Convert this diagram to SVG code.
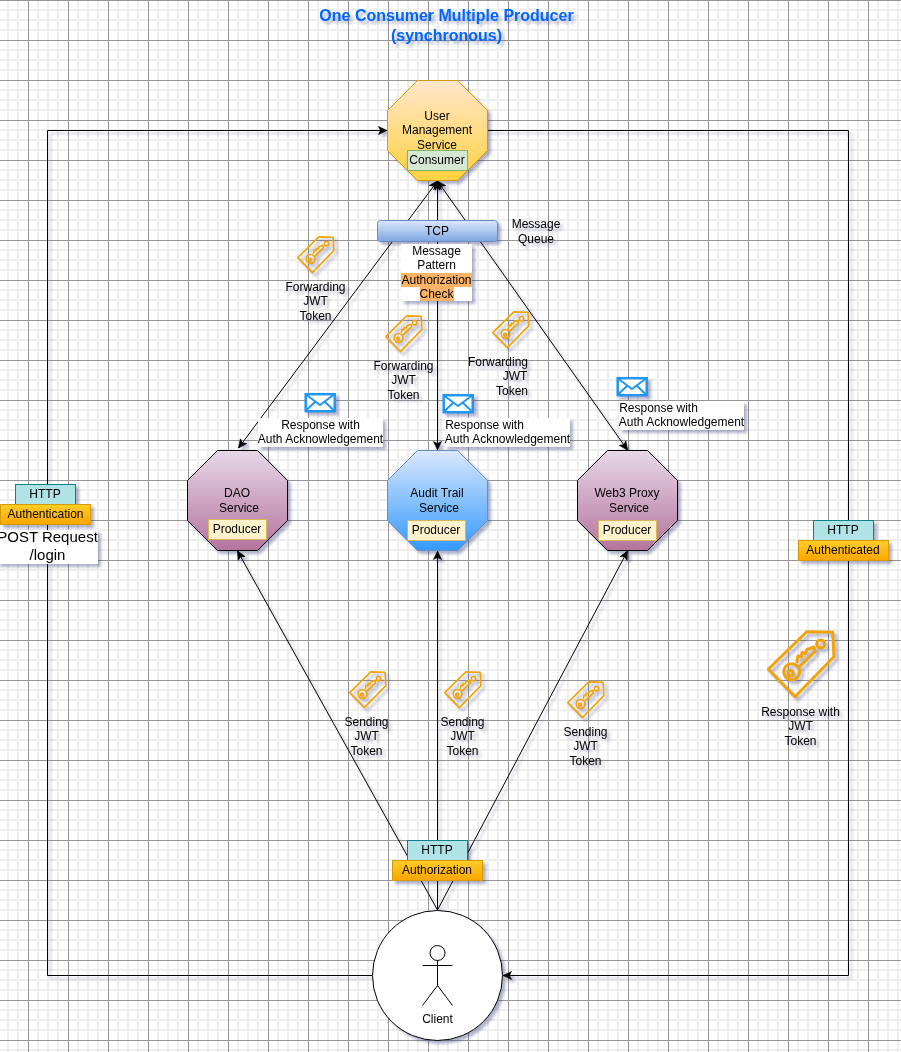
<svg xmlns="http://www.w3.org/2000/svg" width="901" height="1052" viewBox="0 0 901 1052">
<style>
text{font-family:"Liberation Sans",Arial,sans-serif;font-size:12px;fill:#000;text-anchor:middle}
.title{font-size:16px;font-weight:bold;fill:#0066ff}
.big{font-size:15px}
.ln{fill:none;stroke:#000;stroke-width:1}
.both{marker-start:url(#arr);marker-end:url(#arr)}
.end{marker-end:url(#arr)}
.wh{fill:#fff;stroke:none}
.oct{stroke-width:1}
.prod{fill:#fff2cc;stroke:#d6b656}
.http{fill:#b0e3e6;stroke:#0e8088}
.auth{fill:url(#gOrange);stroke:#d79b00}
.tag{fill:none;stroke:#f0a30a;stroke-width:3;stroke-linejoin:round}
.env{fill:#fff;stroke:#2196f3;stroke-width:2.5}
.lab{fill:#ffb366}
</style>
<defs>
<pattern id="grid" patternUnits="userSpaceOnUse" x="3" y="5" width="40" height="40">
<path d="M5 0V40M15 0V40M35 0V40M0 5H40M0 15H40M0 25H40" fill="none" stroke="#eeeeee" stroke-width="2"/>
<path d="M25.5 0V40M0 35.5H40" fill="none" stroke="#969696" stroke-width="1"/>
</pattern>
<linearGradient id="gUser" x1="0" y1="0" x2="0" y2="1"><stop offset="0" stop-color="#ffe6cc"/><stop offset="1" stop-color="#ffd23f"/></linearGradient>
<linearGradient id="gPurple" x1="0" y1="0" x2="0" y2="1"><stop offset="0" stop-color="#e6d8e8"/><stop offset="1" stop-color="#b5739d"/></linearGradient>
<linearGradient id="gBlue" x1="0" y1="0" x2="0" y2="1"><stop offset="0" stop-color="#dae8fc"/><stop offset="1" stop-color="#3399ff"/></linearGradient>
<linearGradient id="gTcp" x1="0" y1="0" x2="0" y2="1"><stop offset="0" stop-color="#dae8fc"/><stop offset="1" stop-color="#7ea6e0"/></linearGradient>
<linearGradient id="gOrange" x1="0" y1="0" x2="0" y2="1"><stop offset="0" stop-color="#ffcd28"/><stop offset="1" stop-color="#ffa500"/></linearGradient>
<marker id="arr" markerUnits="userSpaceOnUse" viewBox="0 0 10 10" refX="9.5" refY="5" markerWidth="10" markerHeight="10" orient="auto-start-reverse"><path d="M9.5 5L1 1L3 5L1 9Z" fill="#000" stroke="#000" stroke-width="0.6"/></marker>
<filter id="sh" x="-2%" y="-2%" width="104%" height="104%" color-interpolation-filters="sRGB"><feDropShadow dx="3" dy="3" stdDeviation="1.6" flood-color="#3a3f7a" flood-opacity="0.4"/></filter>
<g id="tagIcon">
<path class="tag" d="M39.7 1.7L65.7 2.3L67 26.7L28 66.7L1.3 39.3Z"/>
<circle class="tag" cx="53.7" cy="14" r="4"/>
<circle class="tag" cx="24.7" cy="41.7" r="8"/>
<circle class="tag" cx="23.7" cy="43.3" r="2.5"/>
<path class="tag" d="M29.7 33L31 26L34.5 27L35 22.5L38.5 23.5L40 19.5L47 17L48 21.5L32.5 36.7"/>
</g>
<g id="envIcon">
<rect class="env" x="1.2" y="1.2" width="29" height="17"/>
<path d="M1.5 1.5L15.5 12L29.5 1.5M1.5 17.5L11 8.5M29.5 17.5L20 8.5" fill="none" stroke="#2196f3" stroke-width="2"/>
</g>
</defs>
<rect width="901" height="1052" fill="#fff"/>
<rect width="901" height="1052" fill="url(#grid)"/>
<g filter="url(#sh)">
<g id="title"><text class="title" x="446.5" y="21">One Consumer Multiple Producer</text><text class="title" x="446.5" y="41">(synchronous)</text></g>
<g id="connectors">
<path class="ln end" d="M372.5 975.5H47.5V130.5H387"/>
<path class="ln end" d="M488 130.5H848.5V975.5H503"/>
<path class="ln both" d="M437.5 181L238.5 448"/>
<path class="ln both" d="M437.5 181V450"/>
<path class="ln both" d="M437.5 181L627.5 450"/>
<path class="ln end" d="M437.5 910L237.5 551"/>
<path class="ln end" d="M437.5 910V551"/>
<path class="ln end" d="M437.5 910L627.5 551"/>
</g>
<g id="user-service">
<path class="oct" fill="url(#gUser)" stroke="#d79b00" d="M417.5 80.5H457.5L487.5 110.5V150.5L457.5 180.5H417.5L387.5 150.5V110.5Z"/>
<text x="437" y="120">User</text><text x="437" y="134">Management</text><text x="437" y="149">Service</text>
<rect x="407.5" y="150.5" width="60" height="20" fill="#d5e8d4" stroke="#82b366"/><text x="437" y="164">Consumer</text>
</g>
<g id="tcp">
<rect x="377.5" y="220.5" width="120" height="21" rx="3" fill="url(#gTcp)" stroke="#6c8ebf"/><text x="437" y="235">TCP</text>
</g>
<g id="message-queue"><text x="536" y="228">Message</text><text x="536" y="243">Queue</text></g>
<g id="message-pattern">
<rect class="wh" x="401" y="244" width="71" height="57"/>
<rect class="lab" x="401" y="273" width="71" height="14"/><rect class="lab" x="420" y="287" width="34" height="14"/>
<text x="436.5" y="255">Message</text><text x="436.5" y="269">Pattern</text><text x="436.5" y="284">Authorization</text><text x="436.5" y="298">Check</text>
</g>
<g id="dao-service">
<path class="oct" fill="url(#gPurple)" stroke="#000" d="M217.5 450.5H257.5L287.5 480.5V520.5L257.5 550.5H217.5L187.5 520.5V480.5Z"/>
<text x="237" y="497">DAO</text><text x="239" y="512">Service</text>
<rect class="prod" x="208.5" y="519.5" width="58" height="20"/><text x="237" y="533">Producer</text>
</g>
<g id="audit-service">
<path class="oct" fill="url(#gBlue)" stroke="#6c8ebf" d="M417.5 450.5H457.5L487.5 480.5V520.5L457.5 550.5H417.5L387.5 520.5V480.5Z"/>
<text x="437" y="497">Audit Trail</text><text x="439" y="512">Service</text>
<rect class="prod" x="407.5" y="520.5" width="58" height="20"/><text x="436" y="534">Producer</text>
</g>
<g id="web3-service">
<path class="oct" fill="url(#gPurple)" stroke="#000" d="M607.5 450.5H647.5L677.5 480.5V520.5L647.5 550.5H607.5L577.5 520.5V480.5Z"/>
<text x="627" y="497">Web3 Proxy</text><text x="629" y="512">Service</text>
<rect class="prod" x="598.5" y="520.5" width="58" height="20"/><text x="627" y="534">Producer</text>
</g>
<g id="client">
<circle cx="437.5" cy="975.5" r="65" fill="#fff" stroke="#000"/>
<circle cx="437.5" cy="953" r="7.5" fill="#fff" stroke="#000"/>
<path class="ln" d="M437.5 960.5V985.5M422.5 965.5H452.5M422.5 1005.5L437.5 985.5L452.5 1005.5"/>
<text x="437.5" y="1023">Client</text>
</g>
<g id="http-login">
<rect class="http" x="15.5" y="484.5" width="60" height="20"/><text x="45" y="498">HTTP</text>
<rect class="auth" x="0.5" y="504.5" width="90" height="20"/><text x="45.5" y="518">Authentication</text>
<rect class="wh" x="-3" y="530" width="101" height="34"/>
<text class="big" x="47.5" y="542">POST Request</text><text class="big" x="47.5" y="560">/login</text>
</g>
<g id="http-authenticated">
<rect class="http" x="813.5" y="520.5" width="60" height="20"/><text x="843" y="534">HTTP</text>
<rect class="auth" x="798.5" y="540.5" width="90" height="20"/><text x="843" y="554">Authenticated</text>
</g>
<g id="http-authorization">
<rect class="http" x="407.5" y="840.5" width="60" height="20"/><text x="437" y="854">HTTP</text>
<rect class="auth" x="392.5" y="860.5" width="90" height="20"/><text x="437" y="874">Authorization</text>
</g>
<g id="token-response">
<use href="#tagIcon" x="767" y="630"/>
<text x="800.5" y="716">Response with</text><text x="800.5" y="730">JWT</text><text x="800.5" y="745">Token</text>
</g>
<g id="token-forward-1">
<use href="#tagIcon" transform="translate(297 236) scale(.55)"/>
<text x="315.5" y="291">Forwarding</text><text x="315.5" y="305">JWT</text><text x="315.5" y="320">Token</text>
</g>
<g id="token-forward-2">
<use href="#tagIcon" transform="translate(385 315) scale(.55)"/>
<text x="403.5" y="370">Forwarding</text><text x="403.5" y="384">JWT</text><text x="403.5" y="399">Token</text>
</g>
<g id="token-forward-3">
<use href="#tagIcon" transform="translate(492 311) scale(.55)"/>
<text x="498" y="366">Forwarding</text><text x="515" y="380">JWT</text><text x="512" y="395">Token</text>
</g>
<g id="token-send-1">
<use href="#tagIcon" transform="translate(349 671) scale(.55)"/>
<text x="366.5" y="726">Sending</text><text x="366.5" y="740">JWT</text><text x="366.5" y="755">Token</text>
</g>
<g id="token-send-2">
<use href="#tagIcon" transform="translate(444 671) scale(.55)"/>
<text x="462.5" y="726">Sending</text><text x="462.5" y="740">JWT</text><text x="462.5" y="755">Token</text>
</g>
<g id="token-send-3">
<use href="#tagIcon" transform="translate(567 681) scale(.55)"/>
<text x="585.5" y="736">Sending</text><text x="585.5" y="750">JWT</text><text x="585.5" y="765">Token</text>
</g>
<g id="ack-dao">
<use href="#envIcon" x="304.5" y="393"/>
<rect class="wh" x="258" y="418" width="125" height="29"/>
<text x="320.5" y="429">Response with</text><text x="320.5" y="443">Auth Acknowledgement</text>
</g>
<g id="ack-audit">
<use href="#envIcon" x="442.5" y="394"/>
<rect class="wh" x="445" y="418" width="125" height="29"/>
<text x="484.5" y="429">Response with</text><text x="507.5" y="443">Auth Acknowledgement</text>
</g>
<g id="ack-web3">
<use href="#envIcon" x="616.5" y="377"/>
<rect class="wh" x="619" y="401" width="125" height="29"/>
<text x="658.5" y="412">Response with</text><text x="681.5" y="426">Auth Acknowledgement</text>
</g>
</g>
</svg>
